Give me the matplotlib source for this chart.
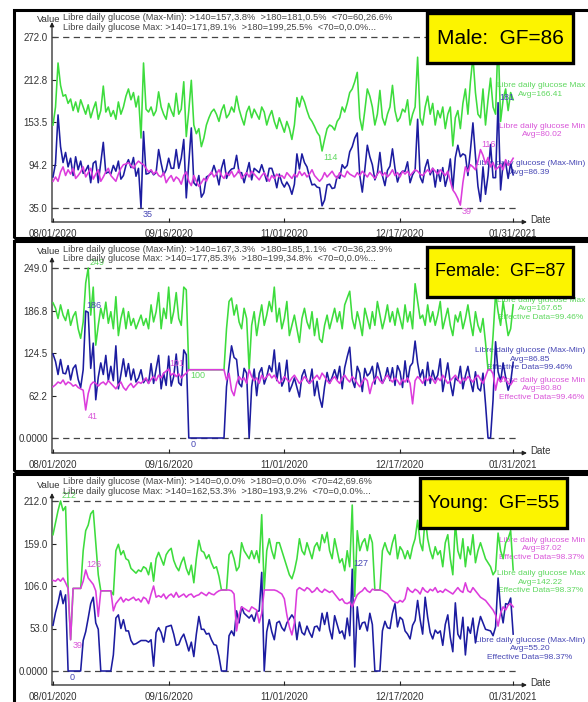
import matplotlib

matplotlib.use("Agg")
import matplotlib.pyplot as plt  # noqa: E402
import numpy as np  # noqa: E402
from matplotlib.patches import Rectangle  # noqa: E402

W, H = 588, 702
plt.rcParams["font.family"] = ["Liberation Sans", "DejaVu Sans"]

# day index 0 = 08/01/2020 ... 183 = 01/31/2021
X_TICKS = [0, 46, 92, 138, 183]
X_LABELS = ["08/01/2020", "09/16/2020", "11/01/2020", "12/17/2020", "01/31/2021"]

# ---- Male: daily max / min glucose (Max-Min is derived)
MALE_MAX = [
    150, 175, 236, 205, 190, 192, 180, 186, 170, 182,
    168, 185, 175, 165, 178, 160, 172, 182, 158, 170,
    204, 168, 175, 162, 170, 158, 182, 165, 175, 190,
    200, 185, 195, 175, 190, 132, 236, 172, 168, 175,
    163, 170, 196, 175, 165, 158, 180, 170, 162, 194,
    165, 172, 210, 134, 170, 212, 150, 138, 145, 120,
    132, 150, 160, 168, 172, 165, 155, 170, 178, 160,
    165, 175, 168, 190, 172, 160, 150, 168, 176, 160,
    172, 165, 158, 175, 168, 150, 162, 170, 155, 145,
    160, 150, 140, 155, 145, 130, 150, 188, 175, 190,
    182, 170, 160, 155, 148, 140, 135, 114, 130, 145,
    150, 148, 143, 155, 160, 175, 168, 180, 195, 200,
    210, 223, 160, 143, 170, 200, 190, 175, 150, 165,
    198, 160, 150, 165, 175, 205, 170, 155, 160, 172,
    168, 185, 150, 165, 175, 244, 160, 150, 175, 190,
    165, 180, 150, 170, 160, 175, 145, 165, 175, 121,
    160, 170, 145, 180, 200, 165, 210, 245, 195, 165,
    160, 200, 150, 185, 215, 175, 165, 272, 155, 185,
    200, 170, 195, 185,
]
MALE_MIN = [
    72, 78, 72, 85, 92, 80, 88, 82, 90, 76,
    80, 85, 92, 78, 84, 90, 75, 82, 88, 72,
    78, 85, 90, 80, 76, 72, 82, 90, 95, 96,
    98, 94, 90, 96, 100, 97, 95, 90, 85, 88,
    82, 86, 80, 78, 84, 70, 76, 80, 72, 78,
    75, 68, 80, 85, 72, 66, 80, 72, 65, 70,
    76, 72, 80, 85, 78, 82, 88, 80, 76, 84,
    80, 86, 78, 82, 88, 76, 80, 84, 78, 86,
    82, 78, 74, 80, 84, 78, 72, 80, 76, 82,
    78, 80, 76, 84, 80, 76, 82, 78, 86, 80,
    84, 78, 82, 88, 80, 76, 72, 76, 84, 78,
    82, 86, 80, 76, 84, 80, 78, 86, 82, 80,
    78, 84, 80, 86, 82, 78, 84, 80, 76, 82,
    86, 80, 84, 78, 82, 88, 80, 84, 78, 86,
    82, 86, 80, 84, 88, 86, 82, 80, 84, 88,
    84, 90, 86, 82, 88, 84, 80, 86, 72, 60,
    55, 48, 39, 70, 92, 85, 95, 92, 88, 100,
    116, 108, 96, 105, 92, 98, 88, 91, 95, 88,
    102, 94, 98, 104,
]

# ---- Female
FEMALE_MAX = [
    198, 190, 175, 195, 180, 172, 188, 165, 178, 185,
    160, 146, 170, 227, 249, 180, 221, 136, 165, 190,
    175, 199, 168, 185, 160, 207, 150, 175, 190, 160,
    185, 165, 175, 160, 170, 180, 165, 175, 160, 195,
    170, 185, 213, 160, 190, 175, 221, 168, 185, 213,
    175, 165, 221, 217, 100, 100, 100, 100, 100, 100,
    100, 100, 100, 100, 100, 100, 100, 100, 100, 160,
    200, 205, 180, 195, 170, 160, 190, 175, 100, 165,
    185, 150, 175, 195, 165, 180, 200, 185, 221, 170,
    190, 160, 175, 200, 150, 165, 180, 160, 140, 175,
    190, 170, 160, 185, 150, 175, 145, 140, 165, 180,
    160, 175, 190, 170, 185, 160, 195, 205, 215, 175,
    160, 185, 170, 150, 190, 175, 160, 185, 165, 200,
    180, 160, 175, 195, 170, 185, 165, 190, 175, 160,
    195, 170, 185, 160, 226, 200, 175, 180, 165, 195,
    170, 185, 165, 180, 200, 160, 175, 190, 165, 150,
    180, 170, 185, 160, 175, 195, 170, 150, 185, 165,
    155, 175, 140, 100, 100, 150, 211, 185, 165, 200,
    175, 150, 160, 195,
]
FEMALE_MIN = [
    75, 78, 82, 80, 85, 78, 82, 80, 76, 78,
    74, 72, 70, 41, 65, 78, 82, 80, 76, 80,
    82, 78, 84, 80, 76, 72, 78, 82, 74, 70,
    76, 80, 74, 78, 82, 80, 84, 88, 80, 86,
    90, 84, 92, 88, 95, 98, 101, 92, 95, 90,
    94, 88, 92, 95, 100, 100, 100, 100, 100, 100,
    100, 100, 100, 100, 100, 100, 100, 100, 100, 85,
    95, 70, 62, 80, 90, 85, 88, 80, 100, 90,
    84, 88, 80, 92, 86, 90, 94, 88, 92, 86,
    80, 84, 90, 86, 82, 88, 92, 86, 80, 84,
    90, 86, 80, 84, 88, 92, 86, 95, 90, 84,
    80, 86, 90, 84, 80, 88, 92, 86, 82, 90,
    86, 80, 75, 82, 88, 84, 65, 80, 86, 90,
    84, 80, 88, 92, 86, 82, 88, 84, 78, 86,
    82, 88, 80, 50, 84, 90, 86, 80, 88, 84,
    90, 86, 80, 88, 84, 92, 86, 80, 84, 88,
    92, 86, 80, 88, 84, 90, 86, 82, 88, 92,
    86, 80, 90, 100, 100, 94, 70, 88, 82, 90,
    86, 80, 78, 84,
]

# ---- Young
YOUNG_MAX = [
    170, 185, 200, 212, 200, 205, 103, 39, 103, 103,
    103, 103, 150, 175, 182, 196, 200, 160, 120, 100,
    100, 100, 100, 100, 95, 150, 158, 145, 150, 140,
    138, 128, 125, 122, 126, 124, 130, 128, 120, 135,
    112, 140, 148, 140, 132, 145, 150, 153, 138, 130,
    125, 135, 142, 128, 120, 132, 110, 140, 163, 150,
    148, 140, 145, 135, 128, 130, 118, 101, 101, 101,
    145, 150, 140, 125, 130, 160, 150, 145, 140, 150,
    140, 150, 135, 195, 101, 150, 165, 150, 140, 160,
    160, 150, 140, 130, 120, 115, 125, 140, 165, 150,
    145, 160, 150, 140, 155, 160, 150, 170, 160, 173,
    150, 140, 165, 150, 135, 140, 125, 150, 130, 207,
    93, 175, 150, 160, 165, 150, 170, 160, 101, 101,
    101, 150, 160, 150, 145, 160, 170, 140, 155, 150,
    140, 150, 140, 155, 165, 188, 160, 150, 192, 165,
    150, 140, 155, 145, 150, 130, 160, 170, 140, 120,
    185, 150, 140, 165, 130, 155, 145, 170, 135, 150,
    160, 150, 140, 135, 130, 120, 125, 172, 150, 140,
    160, 165, 175, 126,
]
YOUNG_MIN = [
    113, 112, 115, 112, 116, 110, 103, 39, 103, 103,
    103, 103, 112, 126, 116, 112, 108, 100, 68, 100,
    100, 100, 100, 100, 75, 84, 88, 92, 86, 90,
    88, 90, 92, 88, 90, 86, 92, 90, 84, 96,
    106, 92, 94, 92, 96, 90, 94, 96, 92, 98,
    92, 94, 96, 92, 95, 96, 92, 94, 95, 98,
    96, 94, 98, 96, 95, 98, 100, 101, 101, 101,
    101, 100, 96, 50, 70, 80, 78, 76, 74, 80,
    78, 76, 60, 72, 101, 101, 101, 101, 101, 100,
    98, 96, 90, 70, 55, 45, 60, 101, 104, 102,
    100, 104, 102, 98, 100, 104, 100, 98, 102, 100,
    98, 100, 96, 92, 88, 90, 85, 84, 86, 80,
    88, 95, 98, 100, 104, 100, 98, 102, 101, 101,
    101, 100, 98, 96, 92, 88, 86, 85, 88, 86,
    90, 104, 100, 98, 102, 100, 96, 104, 100, 98,
    102, 100, 104, 98, 100, 98, 102, 100, 98, 96,
    100, 104, 100, 98, 110, 100, 98, 104, 100, 96,
    92, 90, 88, 84, 80, 76, 70, 56, 72, 80,
    76, 82, 84, 80,
]

MALE_TICKS = ["35.0", "94.2", "153.5", "212.8", "272.0"]
FEMALE_TICKS = ["0.0000", "62.2", "124.5", "186.8", "249.0"]
YOUNG_TICKS = ["0.0000", "53.0", "106.0", "159.0", "212.0"]

MALE_HEAD = [
    "Libre daily glucose (Max-Min): >140=157,3.8%  >180=181,0.5%  <70=60,26.6%",
    "Libre daily glucose Max: >140=171,89.1%  >180=199,25.5%  <70=0,0.0%...",
]
FEMALE_HEAD = [
    "Libre daily glucose (Max-Min): >140=167,3.3%  >180=185,1.1%  <70=36,23.9%",
    "Libre daily glucose Max: >140=177,85.3%  >180=199,34.8%  <70=0,0.0%...",
]
YOUNG_HEAD = [
    "Libre daily glucose (Max-Min): >140=0,0.0%  >180=0,0.0%  <70=42,69.6%",
    "Libre daily glucose Max: >140=162,53.3%  >180=193,9.2%  <70=0,0.0%...",
]

GREEN = "#3ddc3d"
BLUE = "#1c1ca0"
MAGENTA = "#dc3cdc"
GREEN_T = "#5fd85f"
BLUE_T = "#4646b4"
MAGENTA_T = "#d955d9"


def fig_xy(x, y):
    return x / W, 1 - y / H


fig = plt.figure(figsize=(W / 100, H / 100), dpi=100)


def draw_panel(p):
    # black frame around the panel
    fx0, fy1 = fig_xy(14, p["frame"][0])
    fx1, fy0 = fig_xy(595, p["frame"][1])
    fig.add_artist(Rectangle((fx0, fy0), fx1 - fx0, fy1 - fy0, transform=fig.transFigure,
                             fill=False, edgecolor="black", lw=2.2, zorder=0.5))

    top, bottom = p["axes"]
    l, b = fig_xy(52, bottom)
    ax = fig.add_axes([l, b, (527 - 52) / W, (bottom - top) / H])
    lo, hi = p["range"]
    y_hi, y_lo = p["tick_px"]
    scale = (y_lo - y_hi) / (hi - lo)
    ax.set_ylim(lo - (bottom - y_lo) / scale, hi + (y_hi - top) / scale)
    ax.set_xlim(-0.4, 188.5)
    for s in ax.spines.values():
        s.set_visible(False)
    ax.patch.set_alpha(0)

    ticks = np.linspace(lo, hi, 5)
    ax.set_yticks(ticks)
    ax.set_yticklabels(p["ticks"])
    ax.set_xticks(X_TICKS)
    ax.set_xticklabels(X_LABELS)
    ax.tick_params(direction="in", length=3, width=0.8, color="#222", labelsize=7.0,
                   labelcolor="#333", pad=3)
    ax.tick_params(axis="x", pad=5)

    arrow = dict(arrowstyle="-|>", lw=0.9, color="#222", mutation_scale=6, shrinkA=0, shrinkB=0)
    ax.annotate("", xy=(0, 1), xytext=(0, 0), xycoords="axes fraction", arrowprops=arrow)
    ax.annotate("", xy=(1, 0), xytext=(0, 0), xycoords="axes fraction", arrowprops=arrow)

    ax.hlines([lo, hi], -0.4, 185.5, colors="#444", lw=0.9, linestyles=(0, (5, 3.5)))

    g = np.array(p["max"], dtype=float)
    m = np.array(p["min"], dtype=float)
    d = g - m
    days = np.arange(len(g))
    ax.plot(days, g, color=GREEN, lw=1.15, zorder=3)
    ax.plot(days, d, color=BLUE, lw=1.15, zorder=4)
    ax.plot(days, m, color=MAGENTA, lw=1.15, zorder=5)

    # min / max markers of each series (some sit hidden under another label or the box)
    for key, arr, col in (("g", g, GREEN_T), ("d", d, BLUE_T), ("m", m, MAGENTA_T)):
        i = int(np.argmax(arr))
        if (key, "max") not in p["hide"]:
            ax.annotate(f"{arr[i]:.0f}", (i, arr[i]), xytext=(0.8, 4.0), textcoords="offset points",
                        fontsize=6.5, color=col, va="center", zorder=6)
        i = int(np.argmin(arr))
        if (key, "min") not in p["hide"]:
            ax.annotate(f"{arr[i]:.0f}", (i, arr[i]), xytext=(1.2, -4.5), textcoords="offset points",
                        fontsize=6.5, color=col, va="center", zorder=6)

    vy = p["value_y"]
    fig.text(*fig_xy(60, vy), "Value", fontsize=6.8, color="#333", ha="right", va="center")
    fig.text(*fig_xy(63, p["head_y"][0]), p["head"][0], fontsize=6.7, color="#444", va="center")
    fig.text(*fig_xy(63, p["head_y"][1]), p["head"][1], fontsize=6.7, color="#444", va="center")
    fig.text(*fig_xy(530, p["date_y"]), "Date", fontsize=7.0, color="#333", va="center")

    for lines, col, y in p["side"]:
        ax.text(*fig_xy(585, y - 4.6), "\n".join(lines), transform=fig.transFigure, fontsize=6.05,
                color=col, ha="right", va="top", multialignment="center", linespacing=1.22,
                zorder=1, clip_on=False)

    bx0, by0, bx1, by1 = p["box"]
    fx0, fy1 = fig_xy(bx0, by0)
    fx1, fy0 = fig_xy(bx1, by1)
    fig.add_artist(Rectangle((fx0, fy0), fx1 - fx0, fy1 - fy0, transform=fig.transFigure,
                             facecolor="#fcf400", edgecolor="black", lw=2.4, zorder=2))
    fig.text((fx0 + fx1) / 2, (fy0 + fy1) / 2, p["label"], fontsize=p["label_size"],
             ha="center", va="center", color="black", zorder=3)


PANELS = [
    dict(max=MALE_MAX, min=MALE_MIN, ticks=MALE_TICKS, head=MALE_HEAD, range=(35, 272),
         frame=(10, 238), axes=(22, 222), tick_px=(37, 208), value_y=20, head_y=(17, 28),
         date_y=220, box=(427, 13, 573, 63), label="Male:  GF=86", label_size=15,
         hide={("g", "max")},
         side=[(["Libre daily glucose Max", "Avg=166.41"], GREEN_T, 87),
               (["Libre daily glucose Min", "Avg=80.02"], MAGENTA_T, 128),
               (["Libre daily glucose (Max-Min)", "Avg=86.39"], BLUE_T, 165)]),
    dict(max=FEMALE_MAX, min=FEMALE_MIN, ticks=FEMALE_TICKS, head=FEMALE_HEAD, range=(0, 249),
         frame=(241, 471), axes=(257, 453), tick_px=(268, 438), value_y=251, head_y=(249, 259),
         date_y=451, box=(427, 247, 573, 297), label="Female:  GF=87", label_size=13,
         hide=set(),
         side=[(["Libre daily glucose Max", "Avg=167.65", "Effective Data=99.46%"], GREEN_T, 302),
               (["Libre daily glucose (Max-Min)", "Avg=86.85", "Effective Data=99.46%"], BLUE_T, 352),
               (["Libre daily glucose Min", "Avg=80.80", "Effective Data=99.46%"], MAGENTA_T, 382)]),
    dict(max=YOUNG_MAX, min=YOUNG_MIN, ticks=YOUNG_TICKS, head=YOUNG_HEAD, range=(0, 212),
         frame=(474, 706), axes=(493, 685), tick_px=(501, 671), value_y=485, head_y=(482, 492),
         date_y=683, box=(420, 478, 567, 528), label="Young:  GF=55", label_size=14,
         hide={("g", "min")},
         side=[(["Libre daily glucose Min", "Avg=87.02", "Effective Data=98.37%"], MAGENTA_T, 542),
               (["Libre daily glucose Max", "Avg=142.22", "Effective Data=98.37%"], GREEN_T, 575),
               (["Libre daily glucose (Max-Min)", "Avg=55.20", "Effective Data=98.37%"], BLUE_T, 642)]),
]

for p in PANELS:
    draw_panel(p)

fig.savefig("out.png", dpi=100)
